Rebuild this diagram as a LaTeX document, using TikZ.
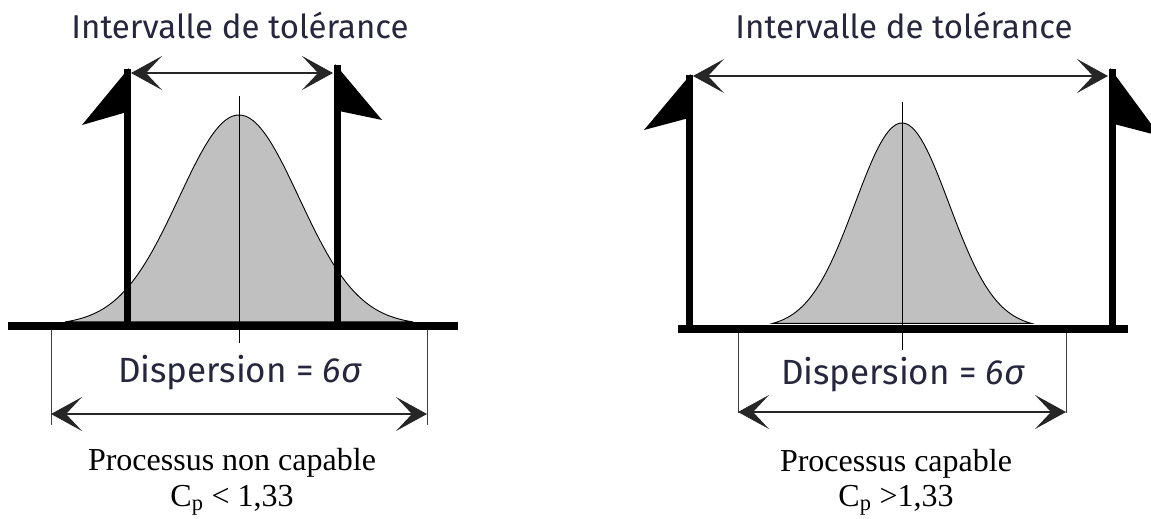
\documentclass[tikz,border=0pt]{standalone}
\usepackage{fontspec}
\setmainfont{Liberation Serif}
\newfontfamily\headfont{Fira Sans}
\usetikzlibrary{arrows.meta}

\definecolor{bellgray}{RGB}{192,192,192}
\definecolor{titlecol}{RGB}{38,38,62}

\begin{document}
\begin{tikzpicture}[x=1pt, y=-1pt, >=Stealth,
          post/.style={line width=7pt},
          base/.style={line width=8.5pt},
          flag/.style={fill=black},
          bell/.style={fill=bellgray, draw=black, line width=0.9pt},
          axe/.style={line width=1pt},
          cote/.style={<->, line width=1.1pt, draw=black!85,
            >={Stealth[length=31pt, width=34pt, inset=16pt]}},
          rappel/.style={line width=1pt, draw=black!75},
          titre/.style={font=\headfont\fontsize{33}{38}\selectfont, text=titlecol, inner sep=0pt},
          disp/.style={font=\headfont\fontsize{35}{40}\selectfont, text=titlecol, inner sep=0pt},
          legende/.style={font=\fontsize{32}{36}\selectfont, inner sep=0pt}
        ]
        \useasboundingbox (0,0) rectangle (1151,519);

        % processus non capable (gauche)
        \draw[bell] plot[domain=-2.9:2.9, samples=90, smooth]
          ({239+60*\x}, {325-210*exp(-0.5*\x*\x)}) -- cycle;
        \draw[axe] (239,96) -- (239,343);

        \coordinate (g-tolA) at (131,73);
        \coordinate (g-tolB) at (333,73);
        \coordinate (g-repA) at (51,330);
        \coordinate (g-repB) at (427,330);
        \coordinate (g-dispA) at (51,414);
        \coordinate (g-dispB) at (427,414);

        \draw[post] (127,69) -- (127,326);
        \draw[post] (337,65) -- (337,326);
        \fill[flag] (129,68) -- (82,125) -- (127,112) -- cycle;
        \fill[flag] (335,64) -- (382,120) -- (339,111) -- cycle;
        \draw[base] (8,326) -- (458,326);

        \draw[cote] (g-tolA) -- (g-tolB);
        \draw[rappel] (g-repA) -- ++(0,95);
        \draw[rappel] (g-repB) -- ++(0,95);
        \draw[cote] (g-dispA) -- (g-dispB);

        \node[titre] (g-titre) at (240,25) {Intervalle de tolérance};
        \node[disp] (g-disp) at (240,373) {Dispersion = \textit{6σ}};
        \node[legende] (g-proc) at (232,463) {Processus non capable};
        \node[legende] (g-cp) at (232,500) {C\textsubscript{p} < 1,33};

        % processus capable (droite)
        \draw[bell] plot[domain=-2.75:2.75, samples=90, smooth]
          ({902+47*\x}, {328-205*exp(-0.5*\x*\x)}) -- cycle;
        \draw[axe] (902,102) -- (902,350);

        \coordinate (d-tolA) at (693,76);
        \coordinate (d-tolB) at (1108,76);
        \coordinate (d-repA) at (738,333);
        \coordinate (d-repB) at (1066,333);
        \coordinate (d-dispA) at (738,412);
        \coordinate (d-dispB) at (1066,412);

        \draw[post] (689,75) -- (689,329);
        \draw[post] (1112,69) -- (1112,329);
        \fill[flag] (691,74) -- (644,130) -- (689,118) -- cycle;
        \fill[flag] (1110,68) -- (1160,136) -- (1114,124) -- cycle;
        \draw[base] (678,329) -- (1128,329);

        \draw[cote] (d-tolA) -- (d-tolB);
        \draw[rappel] (d-repA) -- ++(0,80);
        \draw[rappel] (d-repB) -- ++(0,80);
        \draw[cote] (d-dispA) -- (d-dispB);

        \node[titre] (d-titre) at (904,25) {Intervalle de tolérance};
        \node[disp] (d-disp) at (903,375) {Dispersion = \textit{6σ}};
        \node[legende] (d-proc) at (896,464) {Processus capable};
        \node[legende] (d-cp) at (896,500) {C\textsubscript{p} >1,33};
      \end{tikzpicture}
\end{document}
